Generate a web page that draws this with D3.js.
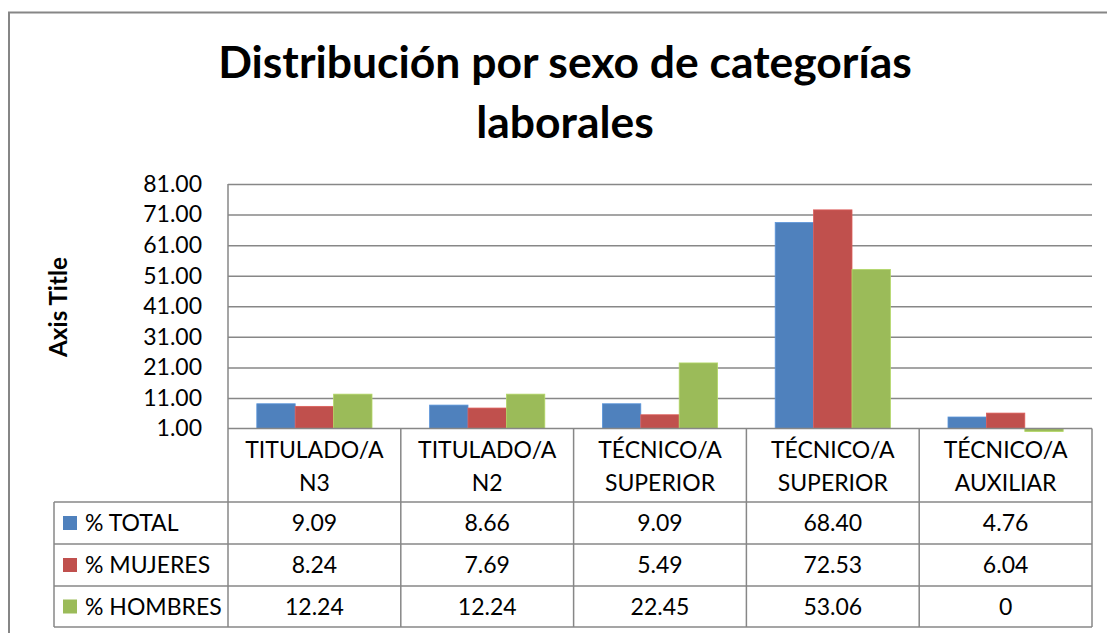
<!DOCTYPE html>
<html>
<head>
<meta charset="utf-8">
<script src="https://cdn.jsdelivr.net/npm/d3@7"></script>
<style>
  body { margin: 0; background: #fff; }
  svg text { font-family: Lato, "Open Sans", sans-serif; fill: #000; }
</style>
</head>
<body>
<div id="host"><svg></svg></div>
<script>
const WIDTH = 1107;
const HEIGHT = 633;

const CATEGORIES = [
  ["TITULADO/A", "N3"],
  ["TITULADO/A", "N2"],
  ["TÉCNICO/A", "SUPERIOR"],
  ["TÉCNICO/A", "SUPERIOR"],
  ["TÉCNICO/A", "AUXILIAR"],
];
const SERIES = ["% TOTAL", "% MUJERES", "% HOMBRES"];
const TOTAL = [9.09, 8.66, 9.09, 68.4, 4.76];
const MUJERES = [8.24, 7.69, 5.49, 72.53, 6.04];
const HOMBRES = [12.24, 12.24, 22.45, 53.06, 0];
const Y_TICKS = [1, 11, 21, 31, 41, 51, 61, 71, 81];

const BLUE = "#4f81bd";
const RED = "#c0504d";
const GREEN = "#9bbb59";
const GRID = "#878787";
const COLORS = [BLUE, RED, GREEN];
const VALUES = [TOTAL, MUJERES, HOMBRES];

const PLOT = { left: 228, right: 1092, top: 184, bottom: 428.5 };
const TABLE = { left: 54, header: 502, rows: [502, 544, 586, 627] };

function fitText(sel, width) {
  const node = sel.node();
  const size = parseFloat(sel.attr("font-size"));
  const len = node.getComputedTextLength();
  sel.attr("font-size", (size * width) / len);
}

function draw() {
  const svg = d3.select("#host svg").attr("width", WIDTH).attr("height", HEIGHT);

  // chart frame
  svg
    .append("path")
    .attr("d", `M9,${HEIGHT + 5}V12.5H${WIDTH + 5}`)
    .attr("fill", "none")
    .attr("stroke", "#868686")
    .attr("stroke-width", 2);

  // title
  const title = svg
    .append("text")
    .attr("x", 565)
    .attr("y", 78)
    .attr("text-anchor", "middle")
    .attr("font-weight", "bold")
    .attr("font-size", 42)
    .text("Distribución por sexo de categorías");
  fitText(title, 694);
  svg
    .append("text")
    .attr("x", 565)
    .attr("y", 138)
    .attr("text-anchor", "middle")
    .attr("font-weight", "bold")
    .attr("font-size", title.attr("font-size"))
    .text("laborales");

  const axisTitle = svg
    .append("text")
    .attr("transform", "translate(67,307) rotate(-90)")
    .attr("text-anchor", "middle")
    .attr("font-weight", "bold")
    .attr("font-size", 20)
    .text("Axis Title");
  fitText(axisTitle, 100);

  const x = d3
    .scaleBand()
    .domain(d3.range(CATEGORIES.length))
    .range([PLOT.left, PLOT.right]);
  const bw = x.bandwidth();
  const xs = d3
    .scaleBand()
    .domain(d3.range(SERIES.length))
    .range([bw / 6, (bw * 5) / 6]);
  const y = d3.scaleLinear().domain([1, 81]).range([PLOT.bottom, PLOT.top]);

  // grid lines
  const grid = svg
    .append("g")
    .attr("transform", `translate(${PLOT.left},0)`)
    .call(
      d3
        .axisLeft(y)
        .tickValues(Y_TICKS.slice(1))
        .tickSize(-(PLOT.right - PLOT.left))
        .tickFormat("")
    );
  grid.select(".domain").remove();
  grid.selectAll("line").attr("stroke", GRID).attr("stroke-width", 1.5);

  // y axis labels
  const yAxis = svg
    .append("g")
    .attr("transform", `translate(${PLOT.left},0)`)
    .call(d3.axisLeft(y).tickValues(Y_TICKS).tickSize(0).tickPadding(26).tickFormat(d3.format(".2f")));
  yAxis.select(".domain").remove();
  yAxis
    .selectAll("text")
    .attr("font-size", 23)
    .attr("font-family", "Lato, sans-serif")
    .attr("fill", "#000");

  // bars
  SERIES.forEach((s, si) => {
    svg
      .append("g")
      .selectAll("rect")
      .data(VALUES[si])
      .join("rect")
      .attr("x", (d, i) => x(i) + xs(si))
      .attr("width", xs.bandwidth())
      .attr("y", (d) => Math.min(y(d), y(1)))
      .attr("height", (d) => Math.abs(y(d) - y(1)))
      .attr("fill", COLORS[si])
      .attr("stroke", d3.color(COLORS[si]).brighter(0.4))
      .attr("stroke-width", 0.8);
  });

  // data table lines
  const lines = svg.append("g").attr("stroke", GRID).attr("stroke-width", 1.5);
  lines
    .append("line")
    .attr("x1", PLOT.left)
    .attr("x2", PLOT.right)
    .attr("y1", PLOT.bottom)
    .attr("y2", PLOT.bottom);
  lines
    .selectAll("line.h")
    .data(TABLE.rows)
    .join("line")
    .attr("class", "h")
    .attr("x1", TABLE.left)
    .attr("x2", PLOT.right)
    .attr("y1", (d) => d)
    .attr("y2", (d) => d);
  lines
    .selectAll("line.v")
    .data(d3.range(CATEGORIES.length + 1))
    .join("line")
    .attr("class", "v")
    .attr("x1", (i) => PLOT.left + i * bw)
    .attr("x2", (i) => PLOT.left + i * bw)
    .attr("y1", (i) => (i === 0 ? PLOT.top : PLOT.bottom))
    .attr("y2", TABLE.rows[3]);
  lines
    .append("line")
    .attr("x1", TABLE.left)
    .attr("x2", TABLE.left)
    .attr("y1", TABLE.rows[0])
    .attr("y2", TABLE.rows[3]);

  // category headers
  const header = svg
    .append("g")
    .selectAll("text")
    .data(CATEGORIES)
    .join("text")
    .attr("text-anchor", "middle")
    .attr("font-size", 23);
  header
    .append("tspan")
    .attr("x", (d, i) => x(i) + bw / 2)
    .attr("y", 458)
    .text((d) => d[0]);
  header
    .append("tspan")
    .attr("x", (d, i) => x(i) + bw / 2)
    .attr("y", 491)
    .text((d) => d[1]);

  // table rows
  SERIES.forEach((s, si) => {
    const top = TABLE.rows[si];
    const mid = (top + TABLE.rows[si + 1]) / 2;
    svg
      .append("rect")
      .attr("x", 63)
      .attr("y", mid - 7)
      .attr("width", 14)
      .attr("height", 14)
      .attr("fill", COLORS[si]);
    svg
      .append("text")
      .attr("x", 85)
      .attr("y", mid + 8)
      .attr("font-size", 23)
      .text(s);
    svg
      .append("g")
      .selectAll("text")
      .data(VALUES[si])
      .join("text")
      .attr("x", (d, i) => x(i) + bw / 2)
      .attr("y", mid + 8)
      .attr("text-anchor", "middle")
      .attr("font-size", 23)
      .text((d) => (d === 0 ? "0" : d.toFixed(2)));
  });
}

draw();
</script>
</body>
</html>
